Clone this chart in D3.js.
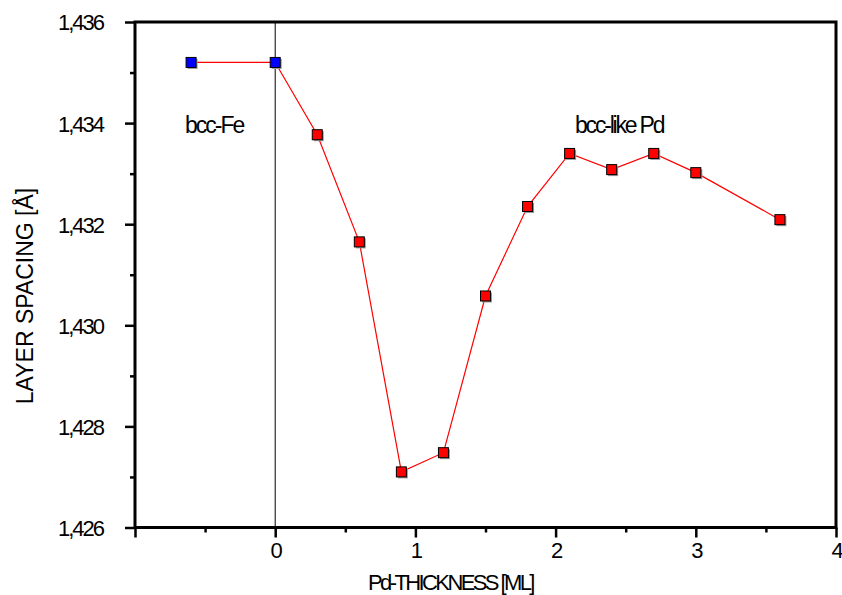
<!DOCTYPE html>
<html>
<head>
<meta charset="utf-8">
<script src="https://cdn.jsdelivr.net/npm/d3@7"></script>
<style>
  body { margin: 0; background: #fff; }
  svg { display: block; font-family: "Liberation Sans", Arial, sans-serif; }
  .tick text { font-size: 22px; letter-spacing: -2px; fill: #000; }
  .domain { display: none; }
</style>
</head>
<body>
<div id="chart"></div>
<script>
/* Layer spacing vs Pd thickness */

const width = 842, height = 595,
    margin = ({ top: 22, right: 6, bottom: 68, left: 135 });

// data
const feThickness = [-0.6, 0];
const feSpacing = [1.4352, 1.4352];
const pdThickness = [0, 0.3, 0.6, 0.9, 1.2, 1.5, 1.8, 2.1, 2.4, 2.7, 3.0, 3.6];
const pdSpacing = [1.4352, 1.43377, 1.43165, 1.4271, 1.42748, 1.43058, 1.43235, 1.4334, 1.43308, 1.4334, 1.43302, 1.43209];
const xTicks = [0, 1, 2, 3, 4];
const yTicks = [1.426, 1.428, 1.430, 1.432, 1.434, 1.436];

const svg = d3.select("#chart")
    .append("svg")
    .attr("width", width)
    .attr("height", height);

let x = d3.scaleLinear()
    .domain([-1, 4])
    .range([margin.left, width - margin.right]);

let y = d3.scaleLinear()
    .domain([1.426, 1.436])
    .range([height - margin.bottom + 0.5, margin.top]);

let fmt = d => d3.format(".3f")(d).replace(".", ",");

// minor ticks first (short ones)
svg.append("g")
    .attr("transform", `translate(${margin.left},0)`)
    .call(d3.axisLeft(y).tickValues(d3.range(1.427, 1.436, 0.002)).tickSize(5).tickFormat(""))
    .selectAll("line").attr("stroke", "#000").attr("stroke-width", 2.5);

svg.append("g")
    .attr("transform", `translate(0,${y(1.426)})`)
    .call(d3.axisBottom(x).tickValues(d3.range(-0.5, 4, 1)).tickSize(5).tickFormat(""))
    .selectAll("line").attr("stroke", "#000").attr("stroke-width", 2.5);

// major ticks + labels
let yAxis = svg.append("g")
    .attr("transform", `translate(${margin.left},0)`)
    .call(d3.axisLeft(y).tickValues(yTicks).tickSize(10).tickPadding(22).tickFormat(fmt));
yAxis.selectAll("line").attr("stroke", "#000").attr("stroke-width", 2.5);
yAxis.selectAll("text").attr("dy", "0.36em");

let xAxis = svg.append("g")
    .attr("transform", `translate(0,${y(1.426)})`)
    .call(d3.axisBottom(x).tickValues([-1].concat(xTicks)).tickSize(10).tickPadding(5).tickFormat(d => d < 0 ? "" : d));
xAxis.selectAll("line").attr("stroke", "#000").attr("stroke-width", 2.5);

// frame
svg.append("rect")
    .attr("x", x(-1))
    .attr("y", y(1.436))
    .attr("width", x(4) - x(-1))
    .attr("height", y(1.426) - y(1.436))
    .attr("fill", "none")
    .attr("stroke", "#000")
    .attr("stroke-width", 3);

// vertical line at zero thickness
svg.append("line")
    .attr("x1", x(0)).attr("x2", x(0))
    .attr("y1", y(1.436)).attr("y2", y(1.426))
    .attr("stroke", "#000")
    .attr("stroke-width", 1);

let line = d3.line()
    .x(d => x(d[0]))
    .y(d => y(d[1]));

let fe = feThickness.map((t, i) => [t, feSpacing[i]]);
let pd = pdThickness.map((t, i) => [t, pdSpacing[i]]);

svg.append("path")
    .datum(fe)
    .attr("d", line)
    .attr("fill", "none")
    .attr("stroke", "#ff0000")
    .attr("stroke-width", 1.2);

svg.append("path")
    .datum(pd)
    .attr("d", line)
    .attr("fill", "none")
    .attr("stroke", "#ff0000")
    .attr("stroke-width", 1.2);

const s = 10;
function markers(data, color) {
    let g = svg.append("g");
    g.selectAll(".shadow")
        .data(data)
        .join("rect")
        .attr("x", d => x(d[0]) - s / 2 + 1.5)
        .attr("y", d => y(d[1]) - s / 2 + 1.5)
        .attr("width", s).attr("height", s)
        .attr("fill", "#999");
    g.selectAll(".mark")
        .data(data)
        .join("rect")
        .attr("x", d => x(d[0]) - s / 2)
        .attr("y", d => y(d[1]) - s / 2)
        .attr("width", s).attr("height", s)
        .attr("fill", color)
        .attr("stroke", "#000")
        .attr("stroke-width", 1);
}
markers(pd.slice(1), "#ff0000");
markers(fe, "#0000ff");

// annotations
svg.append("text")
    .attr("x", 185).attr("y", 133)
    .attr("font-size", 23).attr("letter-spacing", -2)
    .text("bcc-Fe");

svg.append("text")
    .attr("x", 575).attr("y", 133)
    .attr("font-size", 23).attr("letter-spacing", -2.2)
    .text("bcc-like Pd");

// axis titles
svg.append("text")
    .attr("x", 368).attr("y", 590)
    .attr("font-size", 22).attr("letter-spacing", -2.6)
    .text("Pd-THICKNESS [ML]");

svg.append("text")
    .attr("transform", "translate(33,296) rotate(-90)")
    .attr("text-anchor", "middle")
    .attr("font-size", 23)
    .text("LAYER SPACING [Å]");
</script>
</body>
</html>
